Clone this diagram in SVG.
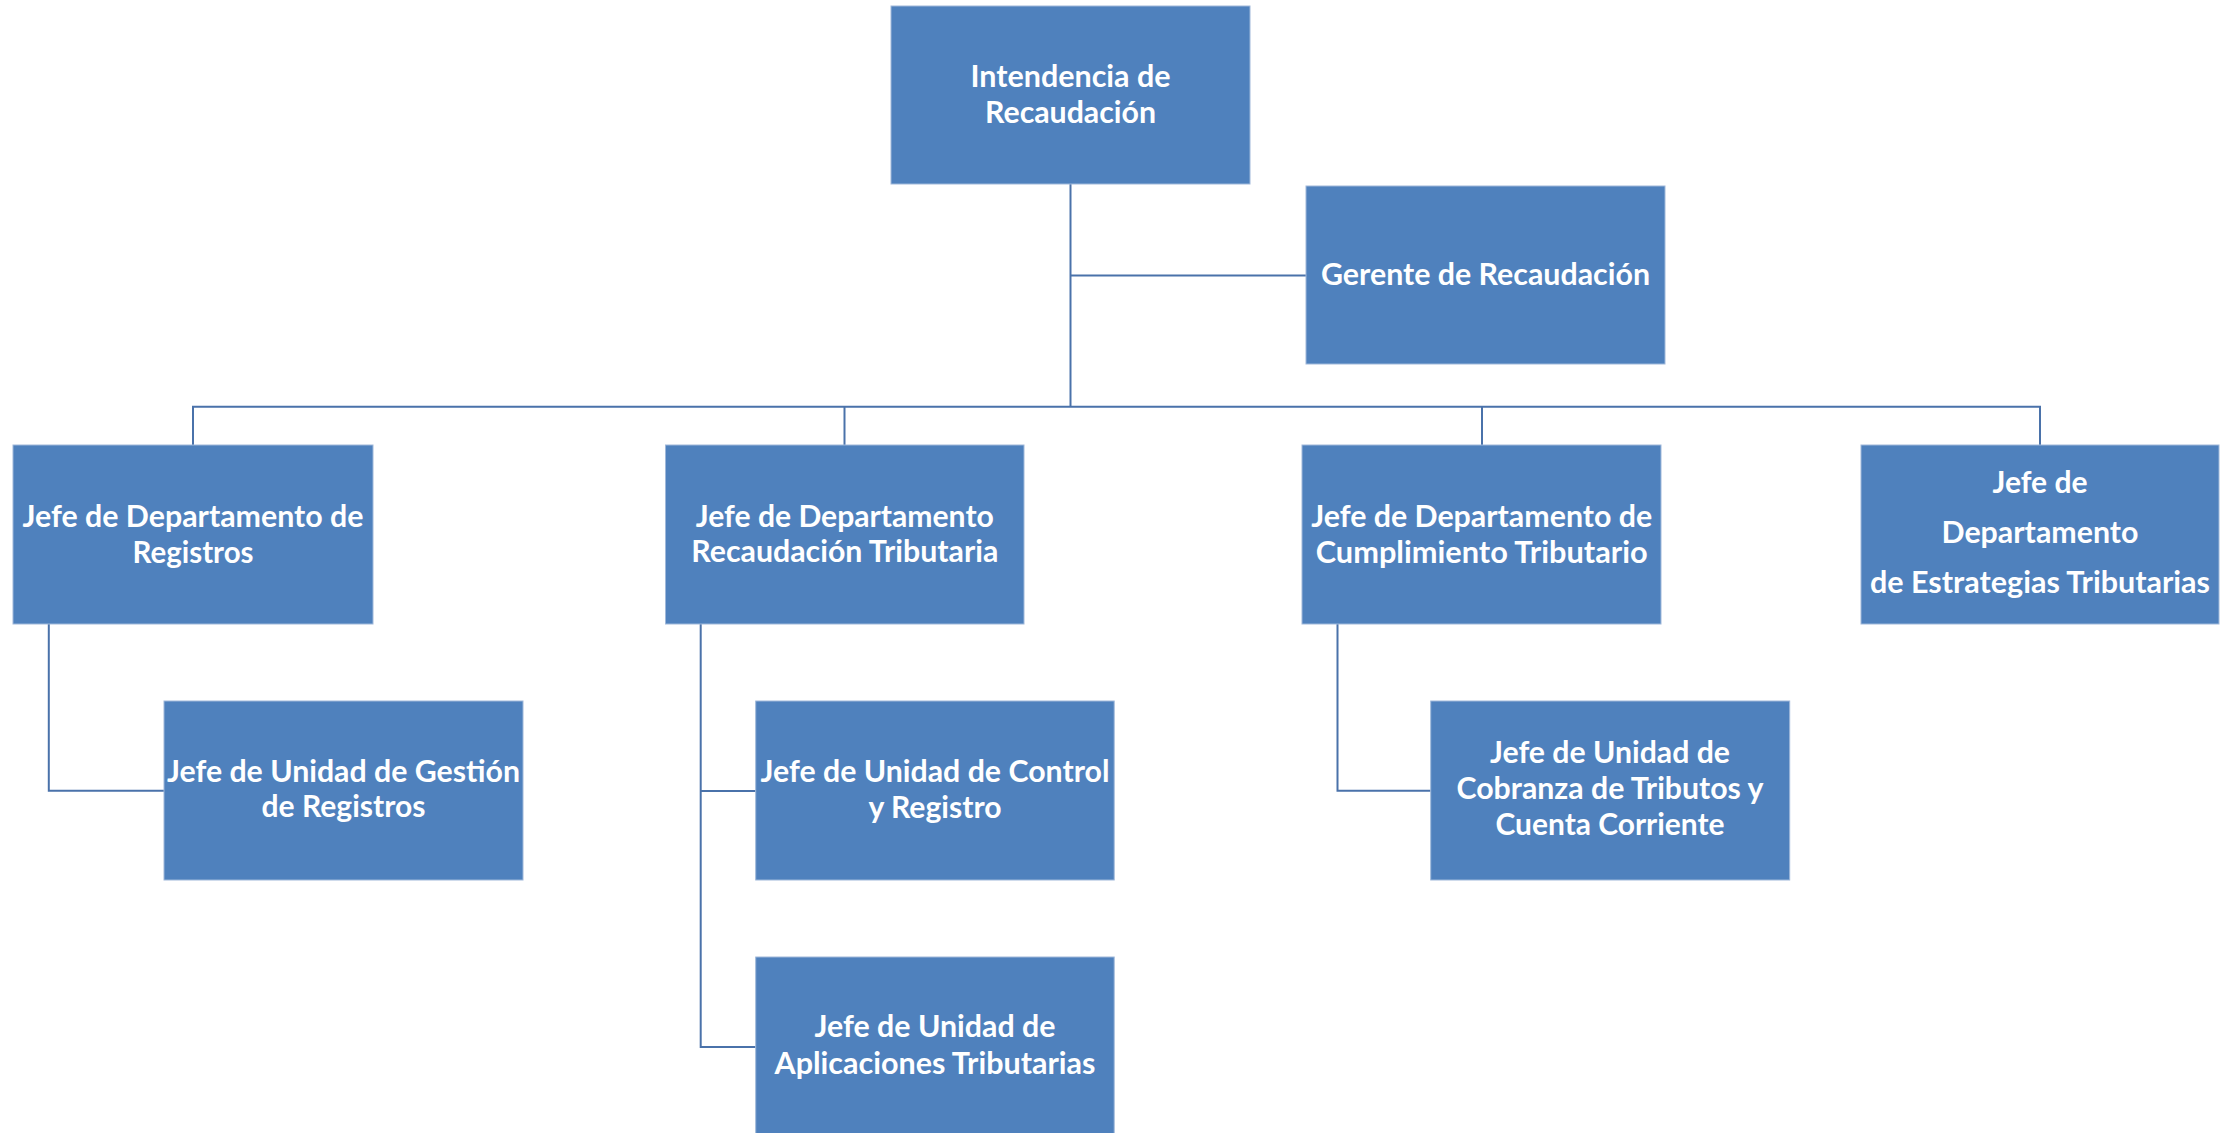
<svg xmlns="http://www.w3.org/2000/svg" width="2229" height="1133" viewBox="0 0 2229 1133">
<style>
.box{fill:#4F81BD;stroke:#9FB8DA;stroke-width:1}
.t{font-family:Lato,"Open Sans","Liberation Sans",sans-serif;font-weight:700;font-size:30px;fill:#FFFFFF;text-anchor:middle}
.c{fill:none;stroke:#4A72AA;stroke-width:2}
</style>
<rect width="2229" height="1133" fill="#FFFFFF"/>
<g id="connectors">
<path class="c" d="M1070.5,184 V406.7"/>
<path class="c" d="M1070.5,275.5 H1306"/>
<path class="c" d="M193,445 V406.7 H2040 V445"/>
<path class="c" d="M844.5,406.7 V445"/>
<path class="c" d="M1482,406.7 V445"/>
<path class="c" d="M48.8,624 V790.7 H164"/>
<path class="c" d="M700.7,624 V1047 H755.7"/>
<path class="c" d="M700.7,791 H755.7"/>
<path class="c" d="M1337.5,624 V790.7 H1430.7"/>
</g>
<g id="n-intendencia">
<rect class="box" x="891" y="6" width="359" height="178"/>
<text class="t" x="1070.5" y="86.7" textLength="200" lengthAdjust="spacingAndGlyphs">Intendencia de</text>
<text class="t" x="1070.5" y="122.7" textLength="171" lengthAdjust="spacingAndGlyphs">Recaudación</text>
</g>
<g id="n-gerente">
<rect class="box" x="1306" y="186" width="359" height="178"/>
<text class="t" x="1485.5" y="285" textLength="329" lengthAdjust="spacingAndGlyphs">Gerente de Recaudación</text>
</g>
<g id="n-registros">
<rect class="box" x="13" y="445" width="360" height="179"/>
<text class="t" x="193" y="526.5" textLength="341" lengthAdjust="spacingAndGlyphs">Jefe de Departamento de</text>
<text class="t" x="193" y="562.5" textLength="121" lengthAdjust="spacingAndGlyphs">Registros</text>
</g>
<g id="n-recaudacion-tributaria">
<rect class="box" x="665.5" y="445" width="358.5" height="179"/>
<text class="t" x="844.8" y="526.5" textLength="298" lengthAdjust="spacingAndGlyphs">Jefe de Departamento</text>
<text class="t" x="844.8" y="562" textLength="307" lengthAdjust="spacingAndGlyphs">Recaudación Tributaria</text>
</g>
<g id="n-cumplimiento">
<rect class="box" x="1302" y="445" width="359" height="179"/>
<text class="t" x="1481.7" y="526.5" textLength="341" lengthAdjust="spacingAndGlyphs">Jefe de Departamento de</text>
<text class="t" x="1481.7" y="562.5" textLength="332" lengthAdjust="spacingAndGlyphs">Cumplimiento Tributario</text>
</g>
<g id="n-estrategias">
<rect class="box" x="1861" y="445" width="358" height="179"/>
<text class="t" x="2040" y="493" textLength="95" lengthAdjust="spacingAndGlyphs">Jefe de</text>
<text class="t" x="2040" y="543" textLength="197" lengthAdjust="spacingAndGlyphs">Departamento</text>
<text class="t" x="2040" y="593" textLength="340" lengthAdjust="spacingAndGlyphs">de Estrategias Tributarias</text>
</g>
<g id="n-gestion">
<rect class="box" x="164" y="701" width="359" height="179"/>
<text class="t" x="343.5" y="781.7" textLength="353" lengthAdjust="spacingAndGlyphs">Jefe de Unidad de Gestión</text>
<text class="t" x="343.5" y="817" textLength="164" lengthAdjust="spacingAndGlyphs">de Registros</text>
</g>
<g id="n-control">
<rect class="box" x="755.7" y="701" width="358.5" height="179"/>
<text class="t" x="935" y="782" textLength="349" lengthAdjust="spacingAndGlyphs">Jefe de Unidad de Control</text>
<text class="t" x="935" y="817.7" textLength="133" lengthAdjust="spacingAndGlyphs">y Registro</text>
</g>
<g id="n-aplicaciones">
<rect class="box" x="755.7" y="957" width="358.5" height="179"/>
<text class="t" x="935" y="1037" textLength="241" lengthAdjust="spacingAndGlyphs">Jefe de Unidad de</text>
<text class="t" x="935" y="1073.5" textLength="321" lengthAdjust="spacingAndGlyphs">Aplicaciones Tributarias</text>
</g>
<g id="n-cobranza">
<rect class="box" x="1430.7" y="701" width="359" height="179"/>
<text class="t" x="1610" y="763.3" textLength="240" lengthAdjust="spacingAndGlyphs">Jefe de Unidad de</text>
<text class="t" x="1610" y="799.3" textLength="307" lengthAdjust="spacingAndGlyphs">Cobranza de Tributos y</text>
<text class="t" x="1610" y="835" textLength="229" lengthAdjust="spacingAndGlyphs">Cuenta Corriente</text>
</g>
</svg>
